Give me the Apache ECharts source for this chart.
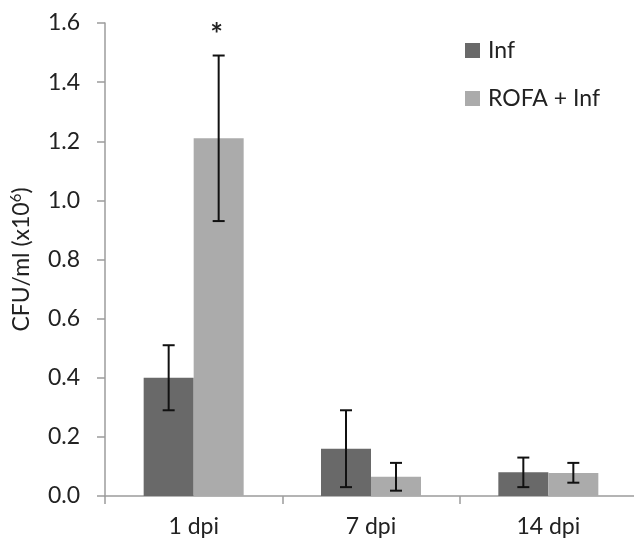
<!DOCTYPE html>
<html lang="en">
<head>
    <meta charset="UTF-8">
    <title>CFU/ml by day</title>
    <style>
        html, body, #main {
            width: 100%;
            height: 100%;
            margin: 0;
            padding: 0;
            background: #fff;
        }
    </style>
    <script src="https://cdn.jsdelivr.net/npm/echarts@6/dist/echarts.min.js"></script>
</head>
<body>
    <div id="main"></div>
    <script>
        // data
        const days = ['1 dpi', '7 dpi', '14 dpi'];
        const infMean = [0.40, 0.16, 0.08];
        const infLow = [0.29, 0.03, 0.03];
        const infHigh = [0.51, 0.29, 0.13];
        const rofaMean = [1.21, 0.065, 0.078];
        const rofaLow = [0.93, 0.018, 0.045];
        const rofaHigh = [1.49, 0.112, 0.112];
        const rofaMarks = ['*', '', ''];

        const FONT = 'Lato';
        const FS = 23;
        const BAR_W = 50;

        var chart = echarts.init(document.getElementById('main'));

        function errorSeries(low, high, offset, marks) {
            return {
                type: 'custom',
                silent: true,
                z: 5,
                data: days.map((d, i) => [i, low[i], high[i]]),
                encode: { x: 0, y: [1, 2] },
                renderItem: function (params, api) {
                    const lo = api.coord([api.value(0), api.value(1)]);
                    const hi = api.coord([api.value(0), api.value(2)]);
                    const x = lo[0] + offset;
                    const cap = 6;
                    const st = { stroke: '#111', lineWidth: 2 };
                    const children = [
                        { type: 'line', shape: { x1: x, y1: lo[1], x2: x, y2: hi[1] }, style: st },
                        { type: 'line', shape: { x1: x - cap, y1: lo[1], x2: x + cap, y2: lo[1] }, style: st },
                        { type: 'line', shape: { x1: x - cap, y1: hi[1], x2: x + cap, y2: hi[1] }, style: st }
                    ];
                    const m = marks ? marks[params.dataIndex] : '';
                    if (m) {
                        // significance marker above the error bar
                        children.push({
                            type: 'text',
                            style: {
                                text: m, x: x - 2, y: hi[1] - 5,
                                align: 'center', verticalAlign: 'bottom',
                                fontFamily: FONT, fontSize: 30, fontWeight: 'bold', fill: '#222'
                            }
                        });
                    }
                    return { type: 'group', children: children };
                }
            };
        }

        var option = {
            backgroundColor: '#fff',
            animation: false,
            grid: { left: 105, right: -3, top: 23, bottom: 45, containLabel: false, outerBoundsMode: 'none' },
            legend: {
                data: ['Inf', 'ROFA + Inf'],
                orient: 'vertical',
                left: 460,
                top: 34,
                itemWidth: 15,
                itemHeight: 15,
                itemGap: 25,
                icon: 'rect',
                textStyle: { fontFamily: FONT, fontSize: FS, color: '#222', padding: [0, 0, 0, 3] }
            },
            xAxis: {
                type: 'category',
                data: days,
                axisLine: { lineStyle: { color: '#9c9c9c', width: 1.5 } },
                axisTick: { show: true, length: 8, lineStyle: { color: '#9c9c9c', width: 1.5 } },
                axisLabel: { fontFamily: FONT, fontSize: FS, color: '#222', margin: 19 }
            },
            yAxis: {
                type: 'value',
                min: 0,
                max: 1.6,
                interval: 0.2,
                name: '{a|CFU/ml (x10}{b|6}{a|)}',
                nameLocation: 'middle',
                nameGap: 71,
                nameTextStyle: {
                    rich: {
                        a: { fontFamily: FONT, fontSize: FS, color: '#222' },
                        b: { fontFamily: FONT, fontSize: 15, color: '#222', verticalAlign: 'top', padding: [0, 0, 10, 0] }
                    }
                },
                splitLine: { show: false },
                axisLine: { show: true, lineStyle: { color: '#9c9c9c', width: 1.5 } },
                axisTick: { show: true, length: 8, lineStyle: { color: '#9c9c9c', width: 1.5 } },
                axisLabel: {
                    fontFamily: FONT, fontSize: FS, color: '#222', margin: 25,
                    formatter: v => v.toFixed(1)
                }
            },
            series: [
                {
                    name: 'Inf', type: 'bar', data: infMean,
                    barWidth: BAR_W, barGap: '0%',
                    itemStyle: { color: '#696969' }
                },
                {
                    name: 'ROFA + Inf', type: 'bar', data: rofaMean,
                    barWidth: BAR_W, barGap: '0%',
                    itemStyle: { color: '#ababab' }
                },
                errorSeries(infLow, infHigh, -BAR_W / 2, null),
                errorSeries(rofaLow, rofaHigh, BAR_W / 2, rofaMarks)
            ]
        };

        chart.setOption(option);
    </script>
</body>
</html>
